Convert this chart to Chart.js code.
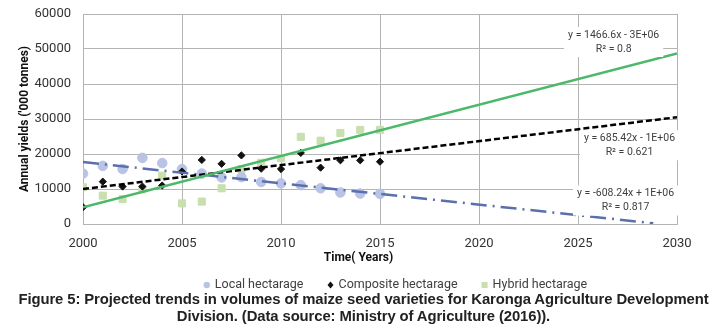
<!DOCTYPE html>
<html>
<head>
<meta charset="utf-8">
<script src="https://cdn.jsdelivr.net/npm/chart.js@4/dist/chart.umd.min.js"></script>
<style>
  html, body { margin: 0; padding: 0; background: #fff; }
  #wrap { position: absolute; left: 0; top: 0; width: 711px; height: 300px; }
  #caption {
    position: absolute; left: 8px; top: 291px;
    width: 711px; margin: 0; text-align: center;
    font-family: "Liberation Sans", Arial, sans-serif; font-weight: bold;
    font-size: 14.85px; line-height: 17px; color: #222; letter-spacing: -0.1px;
  }
</style>
</head>
<body>
<div id="wrap"><canvas id="chart"></canvas></div>
<p id="caption">Figure 5: Projected trends in volumes of maize seed varieties for Karonga Agriculture Development<br>Division. (Data source: Ministry of Agriculture (2016)).</p>
<script>
// annees et valeurs
const years = [2000, 2001, 2002, 2003, 2004, 2005, 2006, 2007, 2008, 2009, 2010, 2011, 2012, 2013, 2014, 2015];
const localHa = [14400, 16600, 15700, 18900, 17400, 15700, 14400, 13300, 13400, 12000, 11600, 11100, 10200, 9000, 8700, 8600];
const compositeHa = [4800, 12100, 10700, 10700, 11000, 15000, 18300, 17200, 19600, 15800, 15700, 20300, 16100, 18200, 18200, 17800];
const hybridHa = [10500, 8100, 7100, 9900, 13800, 5900, 6400, 10200, 15700, 17500, 18800, 24900, 23800, 26000, 26900, 26900];

// lignes de tendance (extremites)
const localTrendX = [2000, 2028.8];
const localTrendY = [17700, 200];
const compTrendX = [2000, 2030];
const compTrendY = [10000, 30500];
const hybTrendX = [2000, 2030];
const hybTrendY = [4800, 48700];

const equations = [
  { lines: ['y = 1466.6x - 3E+06', 'R\u00B2 = 0.8'], x: 2026.8, y: 54000 },
  { lines: ['y = 685.42x - 1E+06', 'R\u00B2 = 0.621'], x: 2027.6, y: 24500 },
  { lines: ['y = -608.24x + 1E+06', 'R\u00B2 = 0.817'], x: 2027.4, y: 8700 },
];

const narrow = 'Roboto, "Liberation Sans Narrow", sans-serif';
const toXY = (xs, ys) => xs.map((x, i) => ({ x: x, y: ys[i] }));

function drawMarker(ctx, style, x, y, color) {
  ctx.fillStyle = color;
  ctx.beginPath();
  if (style === 'circle') {
    ctx.arc(x, y, 3.2, 0, Math.PI * 2);
  } else if (style === 'rectRot') {
    ctx.moveTo(x, y - 3.5); ctx.lineTo(x + 3, y); ctx.lineTo(x, y + 3.5); ctx.lineTo(x - 3, y);
    ctx.closePath();
  } else {
    ctx.rect(x - 3, y - 3, 6, 6);
  }
  ctx.fill();
}

// textes: equations, titre X, legende
const extrasPlugin = {
  id: 'extras',
  afterDatasetsDraw(chart) {
    const { ctx, scales, chartArea } = chart;
    ctx.save();
    ctx.font = '10.5px ' + narrow;
    ctx.textAlign = 'center';
    ctx.textBaseline = 'middle';
    equations.forEach((eq) => {
      const cx = scales.x.getPixelForValue(eq.x);
      const cy = scales.y.getPixelForValue(eq.y);
      const w = Math.max(...eq.lines.map((t) => ctx.measureText(t).width)) + 8;
      ctx.fillStyle = '#fff';
      ctx.fillRect(cx - w / 2, cy - 8, w, 30);
      ctx.fillStyle = '#404040';
      eq.lines.forEach((t, i) => ctx.fillText(t, cx, cy + i * 14));
    });

    ctx.font = 'bold 12px ' + narrow;
    ctx.fillStyle = '#111';
    ctx.fillText('Time( Years)', chart.width / 2 + 3, chartArea.bottom + 34);

    // legende
    ctx.font = '12.5px ' + narrow;
    ctx.textAlign = 'left';
    const items = chart.data.datasets.filter((d) => !d.label.startsWith('trend'));
    const gap = 24;
    const widths = items.map((d) => 11 + ctx.measureText(d.label).width);
    const total = widths.reduce((a, b) => a + b, 0) + gap * (items.length - 1);
    let x = chart.width / 2 + 40 - total / 2;
    const y = chartArea.bottom + 61;
    items.forEach((d, i) => {
      drawMarker(ctx, d.pointStyle, x + 3, y, d.backgroundColor);
      ctx.fillStyle = '#404040';
      ctx.fillText(d.label, x + 11, y);
      x += widths[i] + gap;
    });
    ctx.restore();
  },
};

const ctx = document.getElementById('chart').getContext('2d');
new Chart(ctx, {
  type: 'scatter',
  data: {
    datasets: [
      {
        label: 'Local hectarage',
        data: toXY(years, localHa),
        backgroundColor: '#b9c3e5',
        borderColor: '#b9c3e5',
        pointStyle: 'circle',
        pointRadius: 4.8,
        order: 5,
      },
      {
        label: 'Composite hectarage',
        data: toXY(years, compositeHa),
        backgroundColor: '#111',
        borderColor: '#111',
        pointStyle: 'rectRot',
        pointRadius: 3.6,
        order: 3,
      },
      {
        label: 'Hybrid hectarage',
        data: toXY(years, hybridHa),
        backgroundColor: '#c8dfae',
        borderColor: '#c8dfae',
        pointStyle: 'rect',
        pointRadius: 5,
        order: 6,
      },
      {
        label: 'trend-local',
        data: toXY(localTrendX, localTrendY),
        showLine: true,
        pointRadius: 0,
        borderColor: '#5a6fad',
        borderWidth: 2.5,
        borderDash: [16, 6, 2, 6],
        order: 2,
      },
      {
        label: 'trend-composite',
        data: toXY(compTrendX, compTrendY),
        showLine: true,
        pointRadius: 0,
        borderColor: '#000',
        borderWidth: 2.5,
        borderDash: [6, 3],
        order: 1,
      },
      {
        label: 'trend-hybrid',
        data: toXY(hybTrendX, hybTrendY),
        showLine: true,
        pointRadius: 0,
        borderColor: '#4db86a',
        borderWidth: 2.5,
        order: 0,
      },
    ],
  },
  options: {
    responsive: true,
    maintainAspectRatio: false,
    animation: false,
    layout: { padding: { top: 0, right: 34, left: 10, bottom: 37 } },
    scales: {
      x: {
        type: 'linear',
        min: 2000,
        max: 2030,
        ticks: { stepSize: 5, callback: (v) => String(v), color: '#333', font: { family: narrow, size: 13 }, padding: 12 },
        grid: { color: '#b4b4b4', drawTicks: false },
        border: { color: '#b4b4b4' },
        afterFit: (scale) => { scale.height = 39; },
      },
      y: {
        min: 0,
        max: 60000,
        ticks: { stepSize: 10000, callback: (v) => String(v), color: '#333', font: { family: narrow, size: 13 }, padding: 12 },
        grid: { color: '#b4b4b4', drawTicks: false },
        border: { color: '#b4b4b4' },
        title: { display: true, text: "Annual yields ('000 tonnes)", color: '#111', font: { family: narrow, size: 12, weight: 'bold' }, padding: { top: 8, bottom: 0 } },
        afterFit: (scale) => { scale.width = 73; scale.paddingTop = 14; },
      },
    },
    plugins: {
      legend: { display: false },
      tooltip: { enabled: false },
    },
  },
  plugins: [extrasPlugin],
});
</script>
</body>
</html>
